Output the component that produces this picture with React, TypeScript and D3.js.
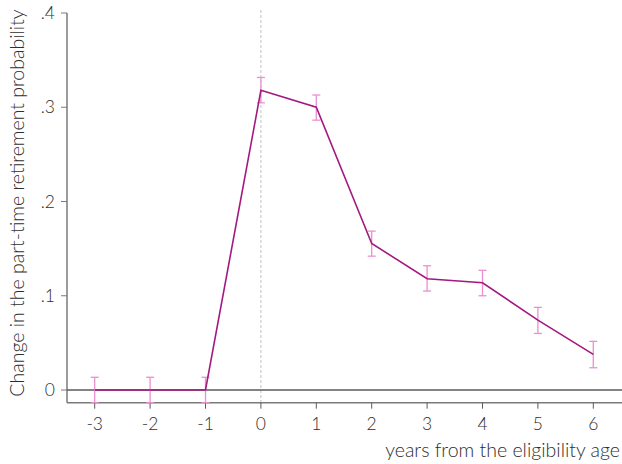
import * as d3 from "d3";

const years = [-3, -2, -1, 0, 1, 2, 3, 4, 5, 6];
const estimates = [0, 0, 0, 0.318, 0.3, 0.1555, 0.118, 0.1138, 0.0742, 0.0378];
const upper = [0.0135, 0.0135, 0.0135, 0.3316, 0.313, 0.1686, 0.1318, 0.127, 0.0877, 0.0516];
const lower = [-0.0135, -0.0135, -0.0135, 0.3047, 0.2863, 0.142, 0.105, 0.1, 0.06, 0.0236];
const yTicks = [0, 0.1, 0.2, 0.3, 0.4];
const yTickLabels = ["0", ".1", ".2", ".3", ".4"];

const W = 622;
const H = 464;
const font = "Lato, 'Open Sans', sans-serif";

export default function App() {
  const x = d3.scaleLinear().domain([-3.5, 6.5]).range([67, 621]);
  const y = d3.scaleLinear().domain([0, 0.4]).range([390, 13]);
  const axisY = 402.7;

  const line = d3
    .line<number>()
    .x((_, i) => x(years[i]))
    .y((d) => y(d));

  const ink = "#2e2e2e";

  return (
    <svg
      width={W}
      height={H}
      style={{ position: "absolute", left: 0, top: 0, background: "#fff" }}
      fontFamily={font}
    >
      {/* reference line at 0 */}
      <line
        x1={x(0)}
        x2={x(0)}
        y1={10}
        y2={axisY}
        stroke="#b5b5b5"
        strokeWidth={0.8}
        strokeDasharray="3,2"
      />

      {/* y axis */}
      <line x1={67} x2={67} y1={y(0.4)} y2={axisY} stroke="#7a7a7a" strokeWidth={1.5} />
      {yTicks.map((t, i) => (
        <g key={t}>
          <line x1={61} x2={67} y1={y(t)} y2={y(t)} stroke="#7a7a7a" strokeWidth={1} />
          <text
            x={55}
            y={y(t)}
            dy="0.35em"
            textAnchor="end"
            fontSize={17.5}
            fontWeight={300}
            fill={ink}
          >
            {yTickLabels[i]}
          </text>
        </g>
      ))}

      {/* zero line */}
      <line x1={67} x2={W} y1={y(0)} y2={y(0)} stroke="#5a5a5a" strokeWidth={1.5} />

      {/* x axis */}
      <line x1={67} x2={W} y1={axisY} y2={axisY} stroke="#7a7a7a" strokeWidth={1.5} />
      {years.map((t) => (
        <g key={t}>
          <line x1={x(t)} x2={x(t)} y1={axisY} y2={axisY + 6} stroke="#5a5a5a" strokeWidth={1} />
          <text
            x={x(t)}
            y={430}
            textAnchor="middle"
            fontSize={17.5}
            fontWeight={300}
            fill={ink}
          >
            {t}
          </text>
        </g>
      ))}

      {/* confidence intervals */}
      {years.map((t, i) => (
        <g key={`ci-${t}`} stroke="#eb8fcf" strokeWidth={1.3}>
          <line x1={x(t)} x2={x(t)} y1={y(upper[i])} y2={y(lower[i])} />
          <line x1={x(t) - 4} x2={x(t) + 4} y1={y(upper[i])} y2={y(upper[i])} />
          <line x1={x(t) - 4} x2={x(t) + 4} y1={y(lower[i])} y2={y(lower[i])} />
        </g>
      ))}

      {/* point estimates */}
      <path d={line(estimates) ?? ""} fill="none" stroke="#a3197f" strokeWidth={1.6} />

      {/* titles */}
      <text
        transform={`translate(24, ${(10 + 396) / 2}) rotate(-90)`}
        textAnchor="middle"
        fontSize={19.5}
        fontWeight={300}
        fill={ink}
      >
        Change in the part-time retirement probability
      </text>
      <text x={620} y={457} textAnchor="end" fontSize={19.5} fontWeight={300} fill={ink}>
        years from the eligibility age
      </text>
    </svg>
  );
}
